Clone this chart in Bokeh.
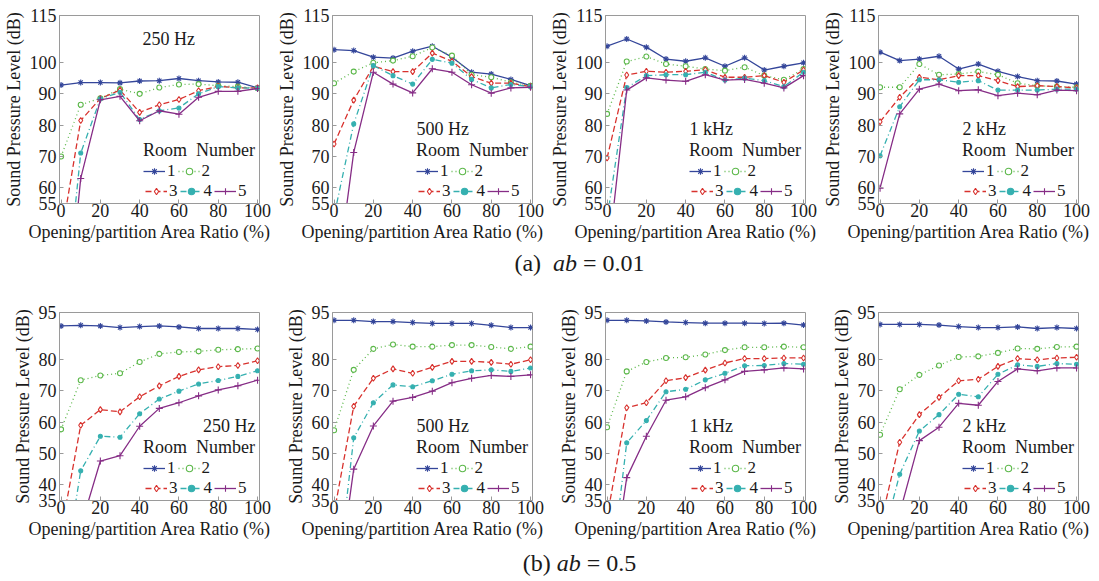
from bokeh.plotting import figure
from bokeh.models import Range1d, FixedTicker, Legend, LegendItem, Label, Div, Title
from bokeh.layouts import column, row
from bokeh.embed import file_html
from bokeh.resources import INLINE

# ---------------- data ----------------
ratio = [0, 10, 20, 30, 40, 50, 60, 70, 80, 90, 100]
rooms = ["1", "2", "3", "4", "5"]
freqs = ["250 Hz", "500 Hz", "1 kHz", "2 kHz"]
captions = ["(a)&nbsp; <i>ab</i> = 0.01", "(b) <i>ab</i> = 0.5"]
x_title = "Opening/partition Area Ratio (%)"
y_title = "Sound Pressure Level (dB)"
yticks_a = [55, 60, 70, 80, 90, 100, 115]
yticks_b = [35, 40, 50, 60, 70, 80, 95]
xticks = [0, 20, 40, 60, 80, 100]

# ab = 0.01  (rooms 1..5)
spl_a_250 = [
    [92.8, 93.6, 93.6, 93.5, 94.1, 94.2, 94.9, 94.2, 93.8, 93.7, 91.9],
    [70.0, 86.5, 88.6, 91.5, 90.0, 92.0, 93.0, 93.1, 92.6, 92.3, 91.8],
    [44.0, 81.5, 88.5, 91.2, 84.1, 86.5, 88.2, 91.0, 92.4, 91.9, 91.9],
    [10.0, 71.1, 88.4, 90.5, 81.8, 84.6, 85.5, 90.0, 92.3, 91.9, 91.8],
    [0.0, 63.0, 88.1, 89.2, 81.4, 84.6, 83.5, 88.9, 90.8, 90.8, 91.7],
]
spl_a_500 = [
    [104.1, 103.8, 101.7, 101.4, 103.6, 105.2, 101.7, 96.9, 96.3, 94.6, 92.6],
    [93.4, 97.1, 99.9, 100.6, 102.0, 104.8, 102.2, 96.1, 95.3, 93.7, 92.6],
    [74.0, 88.0, 98.8, 97.1, 97.1, 103.0, 100.4, 95.5, 93.4, 93.4, 92.3],
    [51.0, 80.4, 99.0, 95.8, 93.1, 101.0, 99.8, 94.6, 91.9, 93.0, 92.3],
    [24.0, 71.3, 96.9, 93.1, 90.3, 98.0, 96.9, 92.9, 90.2, 91.9, 92.1],
]
spl_a_1k = [
    [105.2, 107.5, 104.9, 101.1, 100.4, 101.5, 98.8, 101.5, 97.6, 98.8, 99.9],
    [83.6, 100.3, 101.9, 99.5, 98.8, 97.9, 97.4, 98.5, 95.8, 94.5, 97.9],
    [69.5, 96.0, 97.2, 96.9, 97.2, 97.7, 95.3, 95.3, 95.8, 93.7, 97.6],
    [50.0, 92.0, 95.8, 96.1, 96.1, 96.9, 94.4, 95.0, 94.2, 92.3, 96.9],
    [35.0, 91.2, 95.1, 94.4, 94.0, 96.1, 94.4, 94.6, 93.4, 91.9, 95.8],
]
spl_a_2k = [
    [103.3, 100.6, 101.1, 102.0, 97.9, 99.5, 97.2, 95.5, 94.2, 94.1, 93.1],
    [92.1, 92.1, 99.5, 96.1, 96.3, 97.1, 96.1, 93.4, 92.6, 92.3, 92.1],
    [81.1, 88.9, 95.3, 94.5, 95.8, 95.8, 94.2, 92.3, 92.6, 92.3, 91.9],
    [70.2, 85.9, 94.5, 94.5, 93.7, 94.2, 91.2, 91.2, 91.2, 91.5, 91.5],
    [59.9, 83.6, 91.5, 93.1, 91.0, 91.3, 89.4, 90.2, 89.7, 91.2, 91.0],
]
# ab = 0.5
spl_b_250 = [
    [90.7, 90.9, 90.7, 90.2, 90.5, 90.7, 90.4, 89.9, 89.9, 89.9, 89.6],
    [57.7, 73.4, 74.9, 75.6, 79.2, 81.8, 82.4, 82.6, 83.1, 83.3, 83.5],
    [25.0, 59.0, 64.0, 63.3, 68.1, 71.6, 74.6, 76.7, 77.7, 78.1, 79.6],
    [5.0, 44.5, 55.5, 55.2, 62.7, 67.4, 69.9, 72.2, 73.3, 74.6, 76.4],
    [15.0, 26.6, 47.6, 49.3, 58.7, 64.4, 66.2, 68.4, 70.3, 71.6, 73.4],
]
spl_b_500 = [
    [92.5, 92.5, 92.1, 92.1, 91.8, 91.5, 91.5, 91.5, 90.9, 90.2, 90.2],
    [57.4, 76.7, 83.4, 84.8, 84.1, 84.1, 84.6, 84.6, 84.0, 83.4, 84.1],
    [31.0, 65.1, 74.0, 77.0, 75.6, 77.5, 79.4, 79.4, 79.1, 78.5, 79.9],
    [0.0, 55.0, 66.2, 71.9, 71.3, 73.2, 75.3, 76.4, 76.7, 76.2, 77.3],
    [0.0, 45.0, 58.8, 66.7, 67.9, 69.9, 72.6, 74.0, 74.9, 74.6, 75.1],
]
spl_b_1k = [
    [92.5, 92.5, 92.3, 92.0, 91.8, 91.6, 91.6, 91.6, 91.5, 91.6, 91.0],
    [58.4, 76.2, 79.2, 80.5, 80.7, 81.6, 83.0, 83.9, 83.9, 84.1, 83.9],
    [29.6, 64.6, 66.2, 73.2, 74.2, 76.6, 78.9, 80.3, 80.3, 80.5, 80.5],
    [1.0, 53.4, 60.5, 69.7, 70.5, 73.5, 75.6, 78.0, 78.1, 78.7, 78.5],
    [0.0, 42.3, 55.5, 67.0, 68.1, 71.0, 73.5, 76.2, 76.7, 77.3, 77.0],
]
spl_b_2k = [
    [91.2, 91.2, 91.2, 91.0, 90.5, 90.2, 90.2, 90.4, 89.9, 90.2, 89.9],
    [56.0, 70.5, 75.1, 78.1, 80.8, 81.0, 82.1, 83.5, 83.4, 84.0, 84.1],
    [27.0, 53.6, 62.4, 67.9, 73.2, 73.7, 77.8, 80.3, 79.9, 80.5, 80.7],
    [19.4, 43.4, 57.2, 62.4, 68.9, 68.1, 75.3, 78.3, 77.8, 78.7, 78.5],
    [20.0, 31.0, 54.1, 58.4, 66.0, 65.4, 73.0, 77.0, 76.4, 77.3, 77.3],
]

# ---------------- style ----------------
FONT = "Liberation Serif"
TXT = "#1a1a1a"
colors = ["#34469a", "#5cb84a", "#d8322e", "#35b0b0", "#862d86"]
dashes = ["solid", "1 3", "6 3", "6 3 1 3", "solid"]
markers = ["asterisk", "circle", "diamond", "circle", "cross"]
msizes = [6, 5, 6, 4, 7]
mfills = [None, "white", "white", "#35b0b0", None]
GRAY = "#9a9a9a"
FW, FH = 200, 188


def make_panel(series, freq, ylo, yhi, yticks, top_border, freq_style):
    p = figure(frame_width=FW, frame_height=FH,
               x_range=Range1d(-0.8, 101), y_range=Range1d(ylo, yhi),
               output_backend="svg", toolbar_location=None,
               min_border_left=59, min_border_right=14,
               min_border_top=top_border, min_border_bottom=45,
               background_fill_color="white", border_fill_color="white")
    p.xgrid.visible = False
    p.ygrid.visible = False
    p.outline_line_color = GRAY
    p.outline_line_width = 1
    for ax in (p.xaxis[0], p.yaxis[0]):
        ax.axis_line_color = GRAY
        ax.major_tick_line_color = GRAY
        ax.major_tick_in = 4
        ax.major_tick_out = 0
        ax.minor_tick_line_color = None
        ax.major_label_text_font = FONT
        ax.major_label_text_font_size = "18px"
        ax.major_label_text_color = TXT
        ax.axis_label_text_font = FONT
        ax.axis_label_text_font_size = "18px"
        ax.axis_label_text_font_style = "normal"
        ax.axis_label_text_color = TXT
    p.xaxis.ticker = FixedTicker(ticks=xticks)
    p.yaxis.ticker = FixedTicker(ticks=yticks)
    p.yaxis.axis_label = y_title
    p.xaxis.major_label_standoff = 0
    p.yaxis.major_label_standoff = 3
    p.yaxis.axis_label_standoff = 3

    # x-axis title, placed like the original (shifted left of frame centre)
    xt = Title(text=x_title, align="left", offset=-31, standoff=0,
               text_font=FONT, text_font_size="18px", text_font_style="normal",
               text_color=TXT)
    p.add_layout(xt, "below")

    items = []
    for i, vals in enumerate(series):
        lr = p.line(ratio, vals, line_color=colors[i], line_width=1.3,
                    line_dash=dashes[i])
        sr = p.scatter(ratio, vals, marker=markers[i], size=msizes[i],
                       line_color=colors[i], line_width=1.1,
                       fill_color=mfills[i])
        items.append(LegendItem(label=rooms[i], renderers=[lr, sr]))

    common = dict(orientation="horizontal", background_fill_alpha=0,
                  border_line_color=None, padding=0, margin=0,
                  spacing=2, label_standoff=2, glyph_width=22,
                  glyph_height=16, label_height=16, label_width=8,
                  label_text_font=FONT, label_text_font_size="17px",
                  label_text_color=TXT)
    leg_a = Legend(items=items[:2], location=(84, 22),
                   title="Room  Number", title_text_font=FONT,
                   title_text_font_size="18px", title_text_font_style="normal",
                   title_text_color=TXT, title_standoff=0, **common)
    leg_b = Legend(items=items[2:], location=(86, 2), **common)
    p.add_layout(leg_a)
    p.add_layout(leg_b)

    if freq_style == "topleft":
        lab = Label(x=83, y=165, x_units="screen", y_units="screen", text=freq,
                    text_align="left", text_baseline="middle")
    elif freq_style == "right":
        lab = Label(x=196, y=75, x_units="screen", y_units="screen", text=freq,
                    text_align="right", text_baseline="middle")
    else:
        lab = Label(x=84, y=75, x_units="screen", y_units="screen", text=freq,
                    text_align="left", text_baseline="middle")
    lab.text_font = FONT
    lab.text_font_size = "18px"
    lab.text_color = TXT
    p.add_layout(lab)
    return p


top_sets = [spl_a_250, spl_a_500, spl_a_1k, spl_a_2k]
bot_sets = [spl_b_250, spl_b_500, spl_b_1k, spl_b_2k]
top_styles = ["topleft", "left", "left", "left"]
bot_styles = ["right", "left", "left", "left"]

top = [make_panel(s, f, 55, 115, yticks_a, 15, st)
       for s, f, st in zip(top_sets, freqs, top_styles)]
bot = [make_panel(s, f, 35, 95, yticks_b, 34, st)
       for s, f, st in zip(bot_sets, freqs, bot_styles)]


def caption(html, h):
    return Div(text=('<div style="font-family:\'Liberation Serif\';font-size:24px;'
                     'color:#1a1a1a;text-align:center;width:1099px;box-sizing:border-box;'
                     'padding-left:60px;line-height:%dpx;">%s</div>') % (h, html),
               width=1099, height=h, margin=0)


layout = column(row(*top, margin=0), caption(captions[0], 30),
                row(*bot, margin=0), caption(captions[1], 36), margin=0)

open("out.html", "w").write(file_html(layout, INLINE))
